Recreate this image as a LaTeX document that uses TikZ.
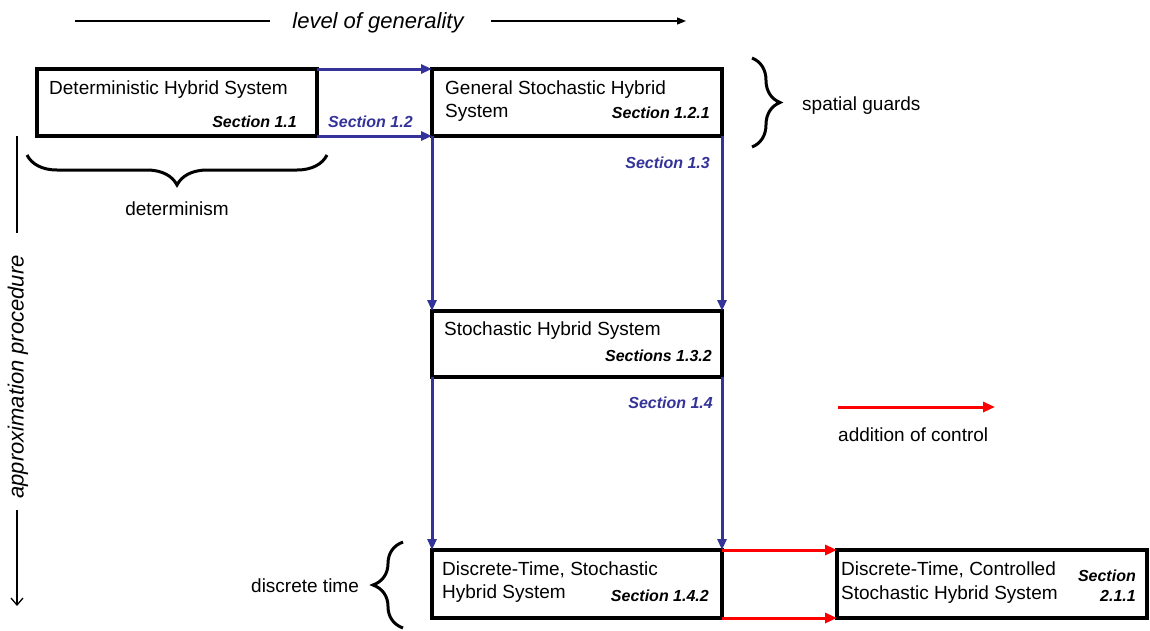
\documentclass[tikz,border=0pt]{standalone}
\usepackage{fontspec}
\setmainfont{Liberation Sans}
\usetikzlibrary{arrows.meta,decorations.pathreplacing}
\definecolor{secblue}{RGB}{51,51,153}
\definecolor{ctrlred}{RGB}{255,0,0}
\begin{document}
\begin{tikzpicture}[x=1pt,y=-1pt,
  sysbox/.style={draw=black, line width=3.4pt, outer sep=0pt, inner sep=0pt,
    anchor=north west},
  txt/.style={inner sep=0pt, font=\fontsize{19}{22}\selectfont},
  axislabel/.style={inner sep=0pt, font=\fontsize{22}{26}\selectfont\itshape},
  sec/.style={inner sep=0pt, font=\fontsize{16}{19}\selectfont\bfseries\itshape},
  secb/.style={sec, text=secblue},
  bluearrow/.style={draw=secblue, line width=3pt,
    -{Triangle[length=11pt,width=9pt]}},
  redarrow/.style={draw=ctrlred, line width=3pt,
    -{Triangle[length=12pt,width=10pt]}},
  bracestyle/.style={draw=black, line width=3pt, decorate}
]
\useasboundingbox (0,0) rectangle (1150,630);

% system boxes
\node[sysbox, minimum width=280pt, minimum height=67pt] (b1) at (37,69) {};
\node[sysbox, minimum width=290pt, minimum height=67pt] (b2) at (432,69) {};
\node[sysbox, minimum width=290pt, minimum height=66pt] (b3) at (432,311) {};
\node[sysbox, minimum width=290pt, minimum height=68pt] (b4) at (432,550) {};
\node[sysbox, minimum width=310pt, minimum height=68pt] (b5) at (837,550) {};

% box titles and section references
\node[txt, anchor=base west] (t1) at (49,94) {Deterministic Hybrid System};
\node[sec, anchor=base east] (s1) at (297,127) {Section 1.1};

\node[txt, anchor=base west] (t2a) at (445,94) {General Stochastic Hybrid};
\node[txt, anchor=base west] (t2b) at (445,117) {System};
\node[sec, anchor=base east] (s2) at (710,118) {Section 1.2.1};

\node[txt, anchor=base west] (t3) at (444,335) {Stochastic Hybrid System};
\node[sec, anchor=base east] (s3) at (712,361) {Sections 1.3.2};

\node[txt, anchor=base west] (t4a) at (442,575) {Discrete-Time, Stochastic};
\node[txt, anchor=base west] (t4b) at (442,598) {Hybrid System};
\node[sec, anchor=base east] (s4) at (709,601) {Section 1.4.2};

\node[txt, anchor=base west] (t5a) at (841,575) {Discrete-Time, Controlled};
\node[txt, anchor=base west] (t5b) at (841,599) {Stochastic Hybrid System};
\node[sec, anchor=base east] (s5a) at (1136,581) {Section};
\node[sec, anchor=base east] (s5b) at (1136,601) {2.1.1};

% transitions between models
\draw[bluearrow] (b1.north east) -- (b2.north west);
\draw[bluearrow] (b1.south east) -- (b2.south west);
\node[secb, anchor=base west] (l12) at (328,127) {Section 1.2};

\draw[bluearrow] (b2.south west) -- (b3.north west);
\draw[bluearrow] (b2.south east) -- (b3.north east);
\node[secb, anchor=base east] (l13) at (710,168) {Section 1.3};

\draw[bluearrow] (b3.south west) -- (b4.north west);
\draw[bluearrow] (b3.south east) -- (b4.north east);
\node[secb, anchor=base east] (l14) at (713,408) {Section 1.4};

\draw[redarrow] (b4.north east) -- (b5.north west);
\draw[redarrow] (b4.south east) -- (b5.south west);

% legend for control
\coordinate (lg1) at (838,407);
\coordinate (lg2) at (995,407);
\draw[redarrow] (lg1) -- (lg2);
\node[txt, anchor=base west] (lgt) at (838,441) {addition of control};

% horizontal axis
\node[axislabel, anchor=base] (gen) at (378,28) {level of generality};
\coordinate (g1) at (75,21);
\coordinate (g2) at (270,21);
\coordinate (g3) at (491,21);
\coordinate (g4) at (686,21);
\draw[line width=1.3pt] (g1) -- (g2);
\draw[line width=1.3pt, -{Triangle[length=9pt,width=7pt]}] (g3) -- (g4);

% vertical axis
\node[axislabel, rotate=90] (appr) at (18,377) {approximation procedure};
\coordinate (v1) at (17,136);
\coordinate (v2) at (17,233);
\coordinate (v3) at (17,510);
\coordinate (v4) at (17,606);
\draw[line width=1.3pt] (v1) -- (v2);
\draw[line width=1.3pt, -{Straight Barb[length=7pt,width=12pt]}] (v3) -- (v4);

% braces with their labels
\draw[bracestyle, decoration={brace, amplitude=30pt}] (327,155) -- (27,155);
\node[txt, anchor=base] (det) at (177,215) {determinism};

\draw[bracestyle, decoration={brace, amplitude=28pt}] (752,58) -- (752,147);
\node[txt, anchor=base west] (sg) at (802,110) {spatial guards};

\draw[bracestyle, decoration={brace, amplitude=30pt}] (403,628) -- (403,542);
\node[txt, anchor=base west] (dt) at (251,592) {discrete time};
\end{tikzpicture}
\end{document}
